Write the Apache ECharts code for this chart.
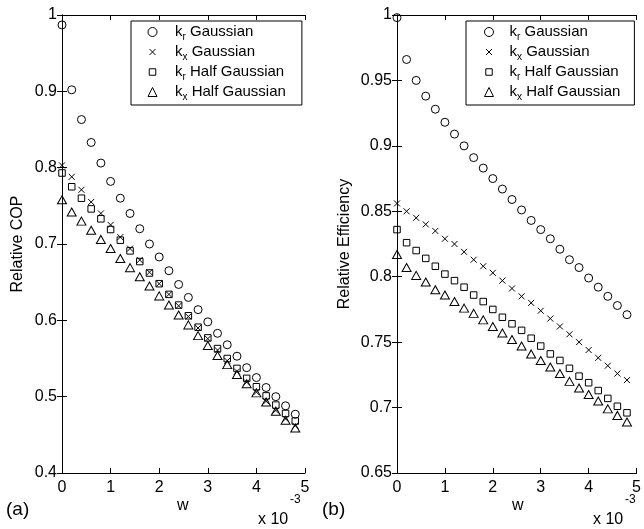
<!DOCTYPE html>
<html>
<head>
<meta charset="utf-8">
<script src="https://cdn.jsdelivr.net/npm/echarts@6/dist/echarts.min.js"></script>
<style>
  html, body { margin: 0; padding: 0; background: #fff; }
  #chart { width: 644px; height: 529px; }
</style>
</head>
<body>
<div id="chart"></div>
<script>
// Sample width w (units of 1e-3)
const w = [0, 0.2, 0.4, 0.6, 0.8, 1.0, 1.2, 1.4, 1.6, 1.8, 2.0, 2.2, 2.4,
           2.6, 2.8, 3.0, 3.2, 3.4, 3.6, 3.8, 4.0, 4.2, 4.4, 4.6, 4.8];

// (a) Relative COP
const copKrGauss = [0.987, 0.902, 0.863, 0.833, 0.806, 0.782, 0.760, 0.740, 0.720, 0.700, 0.683, 0.665, 0.647,
                    0.630, 0.614, 0.598, 0.583, 0.568, 0.553, 0.538, 0.525, 0.512, 0.500, 0.488, 0.477];
const copKxGauss = [0.803, 0.788, 0.771, 0.755, 0.740, 0.725, 0.709, 0.694, 0.679, 0.663, 0.648, 0.634, 0.619,
                    0.605, 0.590, 0.576, 0.561, 0.547, 0.533, 0.519, 0.506, 0.494, 0.482, 0.471, 0.462];
const copKrHalf  = [0.793, 0.775, 0.760, 0.746, 0.733, 0.719, 0.705, 0.691, 0.677, 0.662, 0.648, 0.634, 0.620,
                    0.606, 0.591, 0.577, 0.563, 0.550, 0.537, 0.524, 0.513, 0.501, 0.489, 0.478, 0.468];
const copKxHalf  = [0.758, 0.742, 0.730, 0.718, 0.706, 0.694, 0.681, 0.669, 0.657, 0.645, 0.632, 0.620, 0.607,
                    0.594, 0.580, 0.567, 0.554, 0.542, 0.529, 0.517, 0.505, 0.493, 0.481, 0.469, 0.459];

// (b) Relative Efficiency
const effKrGauss = [0.998, 0.966, 0.950, 0.938, 0.928, 0.918, 0.909, 0.900, 0.891, 0.883, 0.875, 0.867, 0.859,
                    0.851, 0.843, 0.836, 0.829, 0.821, 0.813, 0.807, 0.799, 0.792, 0.785, 0.778, 0.771];
const effKxGauss = [0.856, 0.850, 0.845, 0.840, 0.835, 0.829, 0.825, 0.819, 0.813, 0.808, 0.803, 0.797, 0.791,
                    0.785, 0.780, 0.774, 0.768, 0.762, 0.756, 0.750, 0.744, 0.738, 0.732, 0.726, 0.721];
const effKrHalf  = [0.836, 0.826, 0.820, 0.814, 0.808, 0.802, 0.797, 0.792, 0.786, 0.781, 0.775, 0.769, 0.764,
                    0.759, 0.753, 0.747, 0.741, 0.736, 0.730, 0.724, 0.719, 0.713, 0.707, 0.701, 0.696];
const effKxHalf  = [0.817, 0.807, 0.801, 0.796, 0.790, 0.786, 0.781, 0.776, 0.772, 0.767, 0.762, 0.757, 0.752,
                    0.747, 0.741, 0.736, 0.731, 0.726, 0.720, 0.715, 0.710, 0.705, 0.699, 0.694, 0.689];

const seriesNames = ['kr Gaussian', 'kx Gaussian', 'kr Half Gaussian', 'kx Half Gaussian'];
const xTicks = [0, 1, 2, 3, 4, 5];

const FONT = '"Liberation Sans", Arial, Helvetica, sans-serif';
const BLACK = '#000';
const CLEAR = 'rgba(0,0,0,0)';

// marker shapes: open circle, cross, open square, open triangle
const markers = [
  { symbol: 'circle', size: 8 },
  { symbol: 'path://M0,0L10,10M10,0L0,10', size: 6 },
  { symbol: 'rect', size: 6.5 },
  { symbol: 'triangle', size: [9, 8] }
];

// legend icons drawn in a 9x9 box; the zero-length corner segments keep the
// smaller cross and square at their plotted size inside that box
const legendIcons = [
  'circle',
  'path://M0,0L0,0M1.5,1.5L7.5,7.5M7.5,1.5L1.5,7.5M9,9L9,9',
  'path://M0,0L0,0M1.25,1.25L7.75,1.25L7.75,7.75L1.25,7.75ZM9,9L9,9',
  'triangle'
];

const fmtTick = v => String(+v.toFixed(2));

function axisPair(gridIndex, yMin, yMax, yStep, yName, yNameGap) {
  const line = { show: true, lineStyle: { color: BLACK, width: 1 } };
  const tick = { show: true, inside: true, length: 5, lineStyle: { color: BLACK, width: 1 } };
  const label = { color: BLACK, fontSize: 16, fontFamily: FONT };
  return {
    x: [
      { type: 'value', gridIndex, min: 0, max: 5, interval: 1, position: 'bottom',
        axisLine: line, axisTick: tick, splitLine: { show: false },
        axisLabel: Object.assign({ margin: 7, formatter: v => xTicks.includes(v) ? String(v) : '' }, label) },
      { type: 'value', gridIndex, min: 0, max: 5, interval: 1, position: 'top',
        axisLine: line, axisTick: tick, splitLine: { show: false }, axisLabel: { show: false } }
    ],
    y: [
      { type: 'value', gridIndex, min: yMin, max: yMax, interval: yStep, position: 'left',
        axisLine: line, axisTick: tick, splitLine: { show: false },
        name: yName, nameLocation: 'middle', nameGap: yNameGap,
        nameTextStyle: { color: BLACK, fontSize: 16, fontFamily: FONT },
        axisLabel: Object.assign({ margin: 5, formatter: fmtTick }, label) },
      { type: 'value', gridIndex, min: yMin, max: yMax, interval: yStep, position: 'right',
        axisLine: line, axisTick: tick, splitLine: { show: false }, axisLabel: { show: false } }
    ]
  };
}

const axA = axisPair(0, 0.4, 1, 0.1, 'Relative COP', 36);
const axB = axisPair(1, 0.65, 1, 0.05, 'Relative Efficiency', 44);

function makeSeries(values, k, xIdx, yIdx) {
  return {
    name: seriesNames[k],
    type: 'scatter',
    xAxisIndex: xIdx,
    yAxisIndex: yIdx,
    symbol: markers[k].symbol,
    symbolSize: markers[k].size,
    itemStyle: { color: CLEAR, borderColor: BLACK, borderWidth: 1, opacity: 1 },
    emphasis: { disabled: true },
    data: w.map((x, i) => [x, values[i]])
  };
}

function legendLabel(name) {
  const parts = name.split(' ');
  return '{k|k}{s|' + parts[0].charAt(1) + '}{t| ' + parts.slice(1).join(' ') + '}';
}

function makeLegend(left, padLeft, padRight, textShift) {
  return {
    orient: 'vertical',
    left: left,
    top: 21,
    data: seriesNames.map((name, k) => ({ name, icon: legendIcons[k] })),
    selectedMode: false,
    itemWidth: 9,
    itemHeight: 9,
    itemGap: 0,
    padding: [1, padRight, 3, padLeft],
    borderColor: BLACK,
    borderWidth: 1,
    backgroundColor: '#fff',
    formatter: legendLabel,
    itemStyle: { color: CLEAR, borderColor: BLACK, borderWidth: 1 },
    textStyle: {
      color: BLACK,
      fontFamily: FONT,
      fontSize: 15,
      rich: {
        k: { fontSize: 15, lineHeight: 21.7, padding: [0, 0, 0, textShift], fontFamily: FONT, color: BLACK },
        s: { fontSize: 10, lineHeight: 11.7, padding: [10, 0, 0, 0], fontFamily: FONT, color: BLACK },
        t: { fontSize: 15, lineHeight: 21.7, fontFamily: FONT, color: BLACK }
      }
    }
  };
}

const textStyle = (text, size) => ({ text, fill: BLACK, fontSize: size, fontFamily: FONT });

const option = {
  backgroundColor: '#fff',
  animation: false,
  grid: [
    { left: 62, top: 15, width: 243, height: 458 },
    { left: 397, top: 15, width: 243, height: 458 }
  ],
  xAxis: axA.x.concat(axB.x),
  yAxis: axA.y.concat(axB.y),
  legend: [makeLegend(131, 16.5, 16, 13), makeLegend(466, 18, 14, 11)],
  series: [
    makeSeries(copKrGauss, 0, 0, 0),
    makeSeries(copKxGauss, 1, 0, 0),
    makeSeries(copKrHalf, 2, 0, 0),
    makeSeries(copKxHalf, 3, 0, 0),
    makeSeries(effKrGauss, 0, 2, 2),
    makeSeries(effKxGauss, 1, 2, 2),
    makeSeries(effKrHalf, 2, 2, 2),
    makeSeries(effKxHalf, 3, 2, 2)
  ],
  graphic: [
    { type: 'text', left: 177, top: 498, style: textStyle('w', 16) },
    { type: 'text', left: 512, top: 498, style: textStyle('w', 16) },
    { type: 'text', left: 258, top: 512, style: textStyle('x 10', 16) },
    { type: 'text', left: 290, top: 494, style: textStyle('-3', 12) },
    { type: 'text', left: 593, top: 512, style: textStyle('x 10', 16) },
    { type: 'text', left: 625, top: 494, style: textStyle('-3', 12) },
    { type: 'text', left: 6, top: 500, style: textStyle('(a)', 19) },
    { type: 'text', left: 322, top: 500, style: textStyle('(b)', 19) }
  ]
};

const chart = echarts.init(document.getElementById('chart'), null, { renderer: 'canvas' });
chart.setOption(option);
</script>
</body>
</html>
